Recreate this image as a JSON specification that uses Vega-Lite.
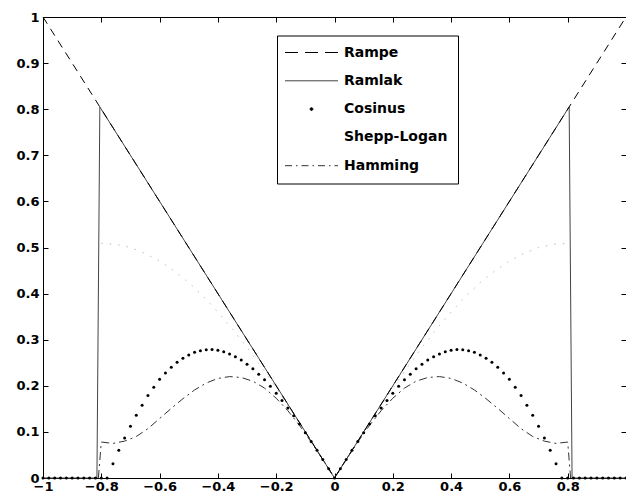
{
  "$schema": "https://vega.github.io/schema/vega-lite/v6.json",
  "width": 583,
  "height": 461,
  "autosize": {"type": "none"},
  "padding": {"left": 43, "top": 17, "right": 0, "bottom": 21},
  "background": "white",
  "config": {
    "view": {"stroke": null},
    "axis": {
      "domainColor": "black",
      "domainWidth": 1,
      "ticks": false,
      "tickColor": "black",
      "tickWidth": 1,
      "tickSize": 5,
      "grid": false,
      "labelPadding": 3,
      "labelColor": "black",
      "labelFont": "DejaVu Sans",
      "labelFontWeight": "bold",
      "labelFontSize": 13,
      "labelFlush": false,
      "labelOverlap": false,
      "title": null
    }
  },
  "datasets": {
    "rampe": [
      {"x": -1, "y": 1, "f": "Rampe"},
      {"x": 0, "y": 0, "f": "Rampe"},
      {"x": 1, "y": 1, "f": "Rampe"}
    ],
    "ramlak": [
      {"x": -1, "y": 0, "f": "Ramlak"},
      {"x": -0.815, "y": 0, "f": "Ramlak"},
      {"x": -0.805, "y": 0.805, "f": "Ramlak"},
      {"x": 0, "y": 0, "f": "Ramlak"},
      {"x": 0.805, "y": 0.805, "f": "Ramlak"},
      {"x": 0.815, "y": 0, "f": "Ramlak"},
      {"x": 1, "y": 0, "f": "Ramlak"}
    ],
    "hamming": [
      {"x": -0.81, "y": 0, "f": "Hamming"},
      {"x": -0.8, "y": 0.078, "f": "Hamming"},
      {"x": -0.76, "y": 0.075, "f": "Hamming"},
      {"x": -0.72, "y": 0.08, "f": "Hamming"},
      {"x": -0.68, "y": 0.09, "f": "Hamming"},
      {"x": -0.64, "y": 0.107, "f": "Hamming"},
      {"x": -0.6, "y": 0.129, "f": "Hamming"},
      {"x": -0.56, "y": 0.151, "f": "Hamming"},
      {"x": -0.52, "y": 0.172, "f": "Hamming"},
      {"x": -0.48, "y": 0.191, "f": "Hamming"},
      {"x": -0.44, "y": 0.206, "f": "Hamming"},
      {"x": -0.4, "y": 0.216, "f": "Hamming"},
      {"x": -0.36, "y": 0.22, "f": "Hamming"},
      {"x": -0.32, "y": 0.218, "f": "Hamming"},
      {"x": -0.28, "y": 0.21, "f": "Hamming"},
      {"x": -0.24, "y": 0.195, "f": "Hamming"},
      {"x": -0.2, "y": 0.173, "f": "Hamming"},
      {"x": -0.16, "y": 0.146, "f": "Hamming"},
      {"x": -0.12, "y": 0.114, "f": "Hamming"},
      {"x": -0.08, "y": 0.078, "f": "Hamming"},
      {"x": -0.04, "y": 0.04, "f": "Hamming"},
      {"x": 0, "y": 0, "f": "Hamming"},
      {"x": 0.04, "y": 0.04, "f": "Hamming"},
      {"x": 0.08, "y": 0.078, "f": "Hamming"},
      {"x": 0.12, "y": 0.114, "f": "Hamming"},
      {"x": 0.16, "y": 0.146, "f": "Hamming"},
      {"x": 0.2, "y": 0.173, "f": "Hamming"},
      {"x": 0.24, "y": 0.195, "f": "Hamming"},
      {"x": 0.28, "y": 0.21, "f": "Hamming"},
      {"x": 0.32, "y": 0.218, "f": "Hamming"},
      {"x": 0.36, "y": 0.22, "f": "Hamming"},
      {"x": 0.4, "y": 0.216, "f": "Hamming"},
      {"x": 0.44, "y": 0.206, "f": "Hamming"},
      {"x": 0.48, "y": 0.191, "f": "Hamming"},
      {"x": 0.52, "y": 0.172, "f": "Hamming"},
      {"x": 0.56, "y": 0.151, "f": "Hamming"},
      {"x": 0.6, "y": 0.129, "f": "Hamming"},
      {"x": 0.64, "y": 0.107, "f": "Hamming"},
      {"x": 0.68, "y": 0.09, "f": "Hamming"},
      {"x": 0.72, "y": 0.08, "f": "Hamming"},
      {"x": 0.76, "y": 0.075, "f": "Hamming"},
      {"x": 0.8, "y": 0.078, "f": "Hamming"},
      {"x": 0.81, "y": 0, "f": "Hamming"}
    ],
    "shepp": [
      {"x": -0.8, "y": 0.509, "f": "Shepp-Logan"},
      {"x": -0.75, "y": 0.507, "f": "Shepp-Logan"},
      {"x": -0.7, "y": 0.5, "f": "Shepp-Logan"},
      {"x": -0.65, "y": 0.487, "f": "Shepp-Logan"},
      {"x": -0.6, "y": 0.471, "f": "Shepp-Logan"},
      {"x": -0.55, "y": 0.449, "f": "Shepp-Logan"},
      {"x": -0.5, "y": 0.424, "f": "Shepp-Logan"},
      {"x": -0.45, "y": 0.394, "f": "Shepp-Logan"},
      {"x": -0.4, "y": 0.36, "f": "Shepp-Logan"},
      {"x": -0.35, "y": 0.323, "f": "Shepp-Logan"},
      {"x": -0.3, "y": 0.283, "f": "Shepp-Logan"},
      {"x": -0.25, "y": 0.24, "f": "Shepp-Logan"},
      {"x": -0.2, "y": 0.195, "f": "Shepp-Logan"},
      {"x": -0.15, "y": 0.148, "f": "Shepp-Logan"},
      {"x": -0.1, "y": 0.099, "f": "Shepp-Logan"},
      {"x": -0.05, "y": 0.05, "f": "Shepp-Logan"},
      {"x": 0, "y": 0, "f": "Shepp-Logan"},
      {"x": 0.05, "y": 0.05, "f": "Shepp-Logan"},
      {"x": 0.1, "y": 0.099, "f": "Shepp-Logan"},
      {"x": 0.15, "y": 0.148, "f": "Shepp-Logan"},
      {"x": 0.2, "y": 0.195, "f": "Shepp-Logan"},
      {"x": 0.25, "y": 0.24, "f": "Shepp-Logan"},
      {"x": 0.3, "y": 0.283, "f": "Shepp-Logan"},
      {"x": 0.35, "y": 0.323, "f": "Shepp-Logan"},
      {"x": 0.4, "y": 0.36, "f": "Shepp-Logan"},
      {"x": 0.45, "y": 0.394, "f": "Shepp-Logan"},
      {"x": 0.5, "y": 0.424, "f": "Shepp-Logan"},
      {"x": 0.55, "y": 0.449, "f": "Shepp-Logan"},
      {"x": 0.6, "y": 0.471, "f": "Shepp-Logan"},
      {"x": 0.65, "y": 0.487, "f": "Shepp-Logan"},
      {"x": 0.7, "y": 0.5, "f": "Shepp-Logan"},
      {"x": 0.75, "y": 0.507, "f": "Shepp-Logan"},
      {"x": 0.8, "y": 0.509, "f": "Shepp-Logan"}
    ],
    "cosinus": [
      {"x": -1, "y": 0, "f": "Cosinus"},
      {"x": -0.98, "y": 0, "f": "Cosinus"},
      {"x": -0.96, "y": 0, "f": "Cosinus"},
      {"x": -0.94, "y": 0, "f": "Cosinus"},
      {"x": -0.92, "y": 0, "f": "Cosinus"},
      {"x": -0.9, "y": 0, "f": "Cosinus"},
      {"x": -0.88, "y": 0, "f": "Cosinus"},
      {"x": -0.86, "y": 0, "f": "Cosinus"},
      {"x": -0.84, "y": 0, "f": "Cosinus"},
      {"x": -0.82, "y": 0, "f": "Cosinus"},
      {"x": -0.8, "y": 0, "f": "Cosinus"},
      {"x": -0.78, "y": 0, "f": "Cosinus"},
      {"x": -0.76, "y": 0.031, "f": "Cosinus"},
      {"x": -0.74, "y": 0.06, "f": "Cosinus"},
      {"x": -0.72, "y": 0.087, "f": "Cosinus"},
      {"x": -0.7, "y": 0.112, "f": "Cosinus"},
      {"x": -0.68, "y": 0.136, "f": "Cosinus"},
      {"x": -0.66, "y": 0.158, "f": "Cosinus"},
      {"x": -0.64, "y": 0.179, "f": "Cosinus"},
      {"x": -0.62, "y": 0.197, "f": "Cosinus"},
      {"x": -0.6, "y": 0.214, "f": "Cosinus"},
      {"x": -0.58, "y": 0.228, "f": "Cosinus"},
      {"x": -0.56, "y": 0.24, "f": "Cosinus"},
      {"x": -0.54, "y": 0.251, "f": "Cosinus"},
      {"x": -0.52, "y": 0.26, "f": "Cosinus"},
      {"x": -0.5, "y": 0.267, "f": "Cosinus"},
      {"x": -0.48, "y": 0.273, "f": "Cosinus"},
      {"x": -0.46, "y": 0.276, "f": "Cosinus"},
      {"x": -0.44, "y": 0.278, "f": "Cosinus"},
      {"x": -0.42, "y": 0.279, "f": "Cosinus"},
      {"x": -0.4, "y": 0.277, "f": "Cosinus"},
      {"x": -0.38, "y": 0.274, "f": "Cosinus"},
      {"x": -0.36, "y": 0.269, "f": "Cosinus"},
      {"x": -0.34, "y": 0.263, "f": "Cosinus"},
      {"x": -0.32, "y": 0.256, "f": "Cosinus"},
      {"x": -0.3, "y": 0.247, "f": "Cosinus"},
      {"x": -0.28, "y": 0.237, "f": "Cosinus"},
      {"x": -0.26, "y": 0.225, "f": "Cosinus"},
      {"x": -0.24, "y": 0.213, "f": "Cosinus"},
      {"x": -0.22, "y": 0.199, "f": "Cosinus"},
      {"x": -0.2, "y": 0.184, "f": "Cosinus"},
      {"x": -0.18, "y": 0.168, "f": "Cosinus"},
      {"x": -0.16, "y": 0.152, "f": "Cosinus"},
      {"x": -0.14, "y": 0.135, "f": "Cosinus"},
      {"x": -0.12, "y": 0.117, "f": "Cosinus"},
      {"x": -0.1, "y": 0.098, "f": "Cosinus"},
      {"x": -0.08, "y": 0.079, "f": "Cosinus"},
      {"x": -0.06, "y": 0.06, "f": "Cosinus"},
      {"x": -0.04, "y": 0.04, "f": "Cosinus"},
      {"x": -0.02, "y": 0.02, "f": "Cosinus"},
      {"x": 0, "y": 0, "f": "Cosinus"},
      {"x": 0.02, "y": 0.02, "f": "Cosinus"},
      {"x": 0.04, "y": 0.04, "f": "Cosinus"},
      {"x": 0.06, "y": 0.06, "f": "Cosinus"},
      {"x": 0.08, "y": 0.079, "f": "Cosinus"},
      {"x": 0.1, "y": 0.098, "f": "Cosinus"},
      {"x": 0.12, "y": 0.117, "f": "Cosinus"},
      {"x": 0.14, "y": 0.135, "f": "Cosinus"},
      {"x": 0.16, "y": 0.152, "f": "Cosinus"},
      {"x": 0.18, "y": 0.168, "f": "Cosinus"},
      {"x": 0.2, "y": 0.184, "f": "Cosinus"},
      {"x": 0.22, "y": 0.199, "f": "Cosinus"},
      {"x": 0.24, "y": 0.213, "f": "Cosinus"},
      {"x": 0.26, "y": 0.225, "f": "Cosinus"},
      {"x": 0.28, "y": 0.237, "f": "Cosinus"},
      {"x": 0.3, "y": 0.247, "f": "Cosinus"},
      {"x": 0.32, "y": 0.256, "f": "Cosinus"},
      {"x": 0.34, "y": 0.263, "f": "Cosinus"},
      {"x": 0.36, "y": 0.269, "f": "Cosinus"},
      {"x": 0.38, "y": 0.274, "f": "Cosinus"},
      {"x": 0.4, "y": 0.277, "f": "Cosinus"},
      {"x": 0.42, "y": 0.279, "f": "Cosinus"},
      {"x": 0.44, "y": 0.278, "f": "Cosinus"},
      {"x": 0.46, "y": 0.276, "f": "Cosinus"},
      {"x": 0.48, "y": 0.273, "f": "Cosinus"},
      {"x": 0.5, "y": 0.267, "f": "Cosinus"},
      {"x": 0.52, "y": 0.26, "f": "Cosinus"},
      {"x": 0.54, "y": 0.251, "f": "Cosinus"},
      {"x": 0.56, "y": 0.24, "f": "Cosinus"},
      {"x": 0.58, "y": 0.228, "f": "Cosinus"},
      {"x": 0.6, "y": 0.214, "f": "Cosinus"},
      {"x": 0.62, "y": 0.197, "f": "Cosinus"},
      {"x": 0.64, "y": 0.179, "f": "Cosinus"},
      {"x": 0.66, "y": 0.158, "f": "Cosinus"},
      {"x": 0.68, "y": 0.136, "f": "Cosinus"},
      {"x": 0.7, "y": 0.112, "f": "Cosinus"},
      {"x": 0.72, "y": 0.087, "f": "Cosinus"},
      {"x": 0.74, "y": 0.06, "f": "Cosinus"},
      {"x": 0.76, "y": 0.031, "f": "Cosinus"},
      {"x": 0.78, "y": 0, "f": "Cosinus"},
      {"x": 0.8, "y": 0, "f": "Cosinus"},
      {"x": 0.82, "y": 0, "f": "Cosinus"},
      {"x": 0.84, "y": 0, "f": "Cosinus"},
      {"x": 0.86, "y": 0, "f": "Cosinus"},
      {"x": 0.88, "y": 0, "f": "Cosinus"},
      {"x": 0.9, "y": 0, "f": "Cosinus"},
      {"x": 0.92, "y": 0, "f": "Cosinus"},
      {"x": 0.94, "y": 0, "f": "Cosinus"},
      {"x": 0.96, "y": 0, "f": "Cosinus"},
      {"x": 0.98, "y": 0, "f": "Cosinus"},
      {"x": 1, "y": 0, "f": "Cosinus"}
    ]
  },
  "resolve": {"axis": {"x": "independent", "y": "independent"}},
  "layer": [
    {
      "encoding": {
        "x": {
          "field": "x", "type": "quantitative",
          "scale": {"domain": [-1, 1], "nice": false, "zero": false},
          "axis": {"orient": "bottom", "values": [-1, -0.8, -0.6, -0.4, -0.2, 0, 0.2, 0.4, 0.6, 0.8], "format": "~g", "labelPadding": 2}
        },
        "y": {
          "field": "y", "type": "quantitative",
          "scale": {"domain": [0, 1], "nice": false, "zero": false},
          "axis": {"orient": "left", "values": [0, 0.1, 0.2, 0.3, 0.4, 0.5, 0.6, 0.7, 0.8, 0.9, 1], "format": "~g", "labelPadding": 4}
        },
        "color": {
          "field": "f", "type": "nominal",
          "scale": {
            "domain": ["Rampe", "Ramlak", "Cosinus", "Shepp-Logan", "Hamming"],
            "range": ["#000000", "#444444", "#000000", "#bdbdbd", "#333333"]
          },
          "legend": {
            "orient": "none",
            "legendX": 234,
            "legendY": 18.5,
            "title": null,
            "padding": 10,
            "strokeColor": "black",
            "fillColor": "white",
            "rowPadding": 14.3,
            "symbolSize": 100,
            "symbolOffset": 17.5,
            "labelOffset": 25.5,
            "labelFont": "DejaVu Sans",
            "labelFontWeight": "bold",
            "labelFontSize": 14,
            "labelColor": "black",
            "labelLimit": 300,
            "symbolStrokeWidth": 1,
            "encode": {
              "symbols": {
                "update": {
                  "shape": {"signal": "datum.value === 'Cosinus' ? 'M-0.28,0A0.28,0.28,0,1,1,0.28,0A0.28,0.28,0,1,1,-0.28,0Z' : datum.value === 'Shepp-Logan' ? 'M0,0' : 'M-5.3,0H5.3'"},
                  "fill": {"signal": "datum.value === 'Cosinus' ? '#000000' : 'transparent'"},
                  "strokeDash": {"signal": "datum.value === 'Rampe' ? [13, 7] : datum.value === 'Hamming' ? [7, 4, 1.5, 4] : [1, 0]"},
                  "size": {"value": 100},
                  "strokeWidth": {"value": 1},
                  "opacity": {"value": 1}
                }
              }
            }
          }
        }
      },
      "layer": [
        {"data": {"name": "shepp"}, "mark": {"type": "line", "strokeWidth": 1, "strokeDash": [1.5, 7]}},
        {"data": {"name": "ramlak"}, "mark": {"type": "line", "strokeWidth": 1}},
        {"data": {"name": "hamming"}, "mark": {"type": "line", "strokeWidth": 1, "strokeDash": [8, 4, 2, 4]}},
        {"data": {"name": "rampe"}, "mark": {"type": "line", "strokeWidth": 1, "strokeDash": [8, 6]}},
        {"data": {"name": "cosinus"}, "mark": {"type": "point", "filled": true, "size": 9, "opacity": 1, "shape": "circle"}}
      ]
    },
    {
      "data": {"name": "rampe"},
      "mark": {"type": "point", "opacity": 0},
      "encoding": {
        "x": {
          "field": "x", "type": "quantitative",
          "scale": {"domain": [-1, 1], "nice": false, "zero": false},
          "axis": {"orient": "top", "offset": -5, "labels": false, "domain": false, "ticks": true, "values": [-0.8, -0.6, -0.4, -0.2, 0, 0.2, 0.4, 0.6, 0.8]}
        },
        "y": {
          "field": "y", "type": "quantitative",
          "scale": {"domain": [0, 1], "nice": false, "zero": false},
          "axis": {"orient": "right", "offset": -5, "labels": false, "domain": false, "ticks": true, "values": [0.1, 0.2, 0.3, 0.4, 0.5, 0.6, 0.7, 0.8, 0.9]}
        }
      }
    },
    {
      "data": {"name": "rampe"},
      "mark": {"type": "point", "opacity": 0},
      "encoding": {
        "x": {
          "field": "x", "type": "quantitative",
          "scale": {"domain": [-1, 1], "nice": false, "zero": false},
          "axis": {"orient": "bottom", "offset": -5, "labels": false, "domain": false, "ticks": true, "values": [-0.8, -0.6, -0.4, -0.2, 0, 0.2, 0.4, 0.6, 0.8]}
        },
        "y": {
          "field": "y", "type": "quantitative",
          "scale": {"domain": [0, 1], "nice": false, "zero": false},
          "axis": {"orient": "left", "offset": -5, "labels": false, "domain": false, "ticks": true, "values": [0.1, 0.2, 0.3, 0.4, 0.5, 0.6, 0.7, 0.8, 0.9]}
        }
      }
    },
    {
      "data": {"name": "rampe"},
      "mark": {"type": "point", "opacity": 0},
      "encoding": {
        "x": {
          "field": "x", "type": "quantitative",
          "scale": {"domain": [-1, 1], "nice": false, "zero": false},
          "axis": {"orient": "top", "labels": false, "domain": true, "ticks": false}
        },
        "y": {
          "field": "y", "type": "quantitative",
          "scale": {"domain": [0, 1], "nice": false, "zero": false},
          "axis": null
        }
      }
    }
  ]
}
